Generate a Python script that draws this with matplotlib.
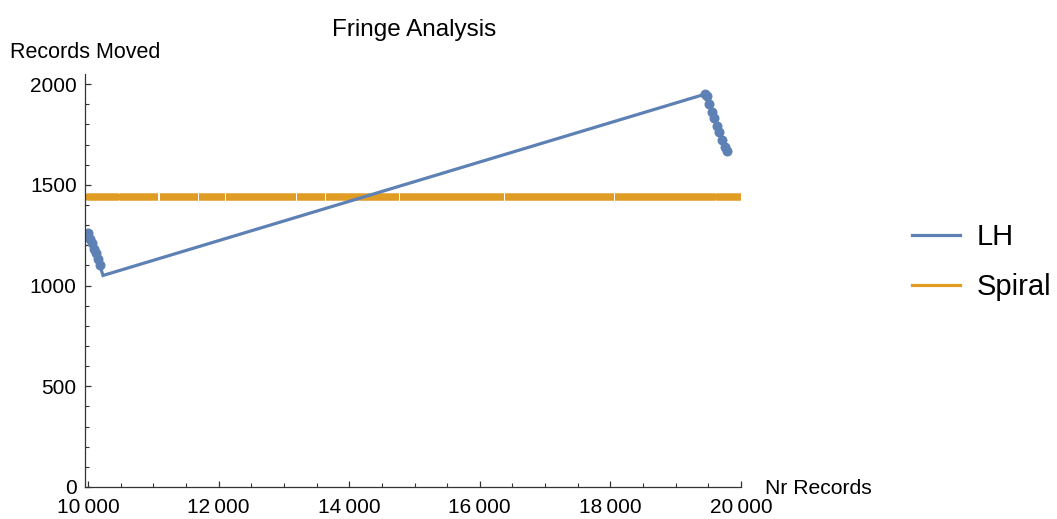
import numpy as np
import matplotlib.pyplot as plt
from matplotlib.ticker import MultipleLocator, FuncFormatter

plt.rcParams['font.family'] = ['Liberation Sans', 'DejaVu Sans']

# LH series: a short drop near 10 000, a long jump, then a drop near 19 500
lh_x = [10000, 10030, 10060, 10090, 10120, 10150, 10180, 10230,
        19450, 19480, 19510, 19550, 19590, 19630, 19670, 19710, 19750, 19790]
lh_y = [1260, 1230, 1210, 1180, 1160, 1130, 1100, 1050,
        1950, 1940, 1900, 1860, 1830, 1790, 1760, 1720, 1690, 1670]
lh_dots = [0, 1, 2, 3, 4, 5, 6, 8, 9, 10, 11, 12, 13, 14, 15, 16, 17]

# Spiral series: flat at 1440, with small breaks between runs of points
spiral_value = 1440
spiral_start, spiral_end = 10000, 20000
spiral_breaks = [10474, 11086, 11697, 12110, 13196, 13639, 14771, 16376, 18058, 19618]

blue = '#5E81B5'
orange = '#E19C24'

fig = plt.figure(figsize=(10.57, 5.19), dpi=100)
ax = fig.add_axes([85 / 1057, 32 / 519, 656 / 1057, 413 / 519])

# spiral as runs separated by thin gaps
edges = [spiral_start] + spiral_breaks + [spiral_end]
for a, b in zip(edges[:-1], edges[1:]):
    lo = a if a == spiral_start else a + 10
    hi = b if b == spiral_end else b - 10
    ax.plot([lo, hi], [spiral_value, spiral_value], color=orange, lw=5.4,
            solid_capstyle='round' if (a == spiral_start or b == spiral_end) else 'butt')

ax.plot(lh_x, lh_y, color=blue, lw=2.3, marker='o', ms=6.2,
        markevery=lh_dots, solid_joinstyle='miter')

ax.set_xlim(9954, 20000)
ax.set_ylim(0, 2050)

for s in ['top', 'right']:
    ax.spines[s].set_visible(False)
for s in ['left', 'bottom']:
    ax.spines[s].set_color('#333333')
    ax.spines[s].set_linewidth(0.9)

ax.xaxis.set_major_locator(MultipleLocator(2000))
ax.xaxis.set_minor_locator(MultipleLocator(500))
ax.yaxis.set_major_locator(MultipleLocator(500))
ax.yaxis.set_minor_locator(MultipleLocator(100))
ax.xaxis.set_major_formatter(FuncFormatter(
    lambda v, p: f"{int(v) // 1000}\u2009{int(v) % 1000:03d}"))
ax.tick_params(which='both', direction='in', colors='#333333', labelcolor='black',
               labelsize=15)
ax.tick_params(which='major', length=4.5, width=0.9)
ax.tick_params(which='minor', length=2.6, width=0.8)
ax.tick_params(axis='x', pad=8)
ax.tick_params(axis='y', pad=6)

fig.text(414 / 1057, 1 - 30 / 519, 'Fringe Analysis', ha='center', va='center',
         fontsize=17.5)
fig.text(10 / 1057, 1 - 53 / 519, 'Records Moved', ha='left', va='center',
         fontsize=15.5)
fig.text(765 / 1057, 1 - 488 / 519, 'Nr Records', ha='left', va='center',
         fontsize=15.2)

h1, = ax.plot([], [], color=blue, lw=2.3, label='LH')
h2, = ax.plot([], [], color=orange, lw=2.3, label='Spiral')
fig.legend(handles=[h1, h2], loc='center left', bbox_to_anchor=(886 / 1057, 1 - 262 / 519),
           frameon=False, fontsize=21, handlelength=1.65, handletextpad=0.55,
           labelspacing=0.75)

fig.savefig('out.png', dpi=100)
